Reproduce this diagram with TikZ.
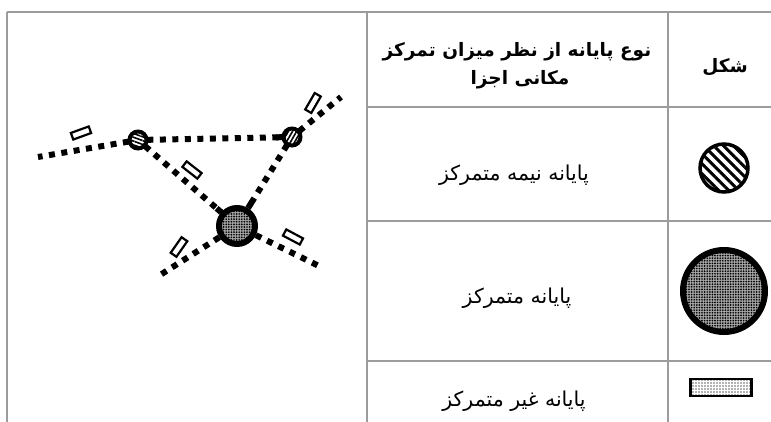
\documentclass[tikz,border=0pt]{standalone}
\usepackage{fontspec}
\usetikzlibrary{patterns,patterns.meta,calc}
\newfontfamily\arabicfont[Script=Arabic]{DejaVu Sans}
\TeXXeTstate=1
\definecolor{tablegray}{HTML}{9C9C9C}

\begin{document}
\begin{tikzpicture}[x=1pt,y=-1pt,
  grid/.style={draw=tablegray,line width=1.8pt},
  link/.style={line width=6pt,dash pattern=on 6pt off 6.5pt},
  stub/.style={line width=6pt},
  semihub/.style={circle,draw=black,line width=4pt,minimum size=17pt,inner sep=0pt,
    preaction={fill=white}},
  dotfill/.style={preaction={fill=black!35},pattern={Dots[distance=2.6pt,radius=0.95pt]},
    pattern color=black},
  fullhub/.style={circle,draw=black,line width=6pt,minimum size=36pt,inner sep=0pt,dotfill},
  term/.style={draw=black,line width=2.2pt,fill=white,minimum width=19pt,
    minimum height=7pt,inner sep=0pt},
  celltext/.style={font=\arabicfont\fontsize{20.5}{24}\selectfont,inner sep=0pt},
  headtext/.style={font=\arabicfont\bfseries\fontsize{18.5}{22}\selectfont,inner sep=0pt}
]
\useasboundingbox (0,0) rectangle (771,422);

% ---- table frame ----
\draw[grid] (7,12) -- (771,12);
\draw[grid] (7,12) -- (7,422);
\draw[grid] (367,12) -- (367,422);
\draw[grid] (668,12) -- (668,422);
\draw[grid] (367,107) -- (771,107);
\draw[grid] (367,221) -- (771,221);
\draw[grid] (367,361) -- (771,361);

% ---- header ----
\node[headtext] (hdrA) at (517,52) {\beginR نوع پایانه از نظر میزان تمرکز\endR};
\node[headtext] (hdrB) at (520,80) {\beginR مکانی اجزا\endR};
\node[headtext] (hdrShape) at (725,67) {\beginR شکل\endR};

% ---- rows ----
\node[celltext] (txtSemi) at (514,175) {\beginR پایانه نیمه متمرکز\endR};
\node[celltext] (txtFull) at (517,298) {\beginR پایانه متمرکز\endR};
\node[celltext] (txtNone) at (514,401) {\beginR پایانه غیر متمرکز\endR};

% ---- legend symbols ----
\node[circle,draw=black,line width=3.5pt,minimum size=48pt,inner sep=0pt,
  preaction={fill=white},
  pattern={Lines[angle=-45,distance=7pt,line width=3pt]}] (keySemi) at (724,168) {};
\node[circle,draw=black,line width=6pt,minimum size=82pt,inner sep=0pt,dotfill] (keyFull) at (724,291) {};
\node[draw=black,line width=2.8pt,minimum width=61pt,minimum height=17pt,inner sep=0pt,
  preaction={fill=white},pattern={Dots[distance=3pt,radius=0.8pt]},pattern color=black!60] (keyNone) at (721,387.5) {};

% ---- network sketch ----
\coordinate (wEnd) at (38,157);
\coordinate (neEnd) at (341,97);
\coordinate (swEnd) at (157,277);
\coordinate (seEnd) at (319,266);

\node[semihub,pattern={Lines[angle=-20,distance=3.6pt,line width=1.6pt]}] (L) at (138,140) {};
\node[semihub,pattern={Lines[angle=60,distance=3.6pt,line width=1.6pt]}] (R) at (292,137) {};
\node[fullhub] (B) at (237,226) {};

% links between the hubs, with a solid stub where each one meets its far hub
\draw[link] (L) -- (R);
\draw[stub] (R) -- ($(R)!16pt!(L)$);
\draw[link] (L) -- (B);
\draw[stub] (B) -- ($(B)!27pt!(L)$);
\draw[link] (R) -- (B);
\draw[stub] (B) -- ($(B)!27pt!(R)$);

% open branches
\draw[link] (L) -- (wEnd);
\draw[link] (R) -- (neEnd);
\draw[link] (B) -- (swEnd);
\draw[link] (B) -- (seEnd);

% terminals beside the branches
\node[term,rotate=20] (tW) at (81,133) {};
\node[term,rotate=-38] (tLB) at (192,170) {};
\node[term,rotate=60] (tNE) at (313,103) {};
\node[term,rotate=55] (tSW) at (179,247) {};
\node[term,rotate=-28] (tSE) at (293,237) {};
\end{tikzpicture}
\end{document}
